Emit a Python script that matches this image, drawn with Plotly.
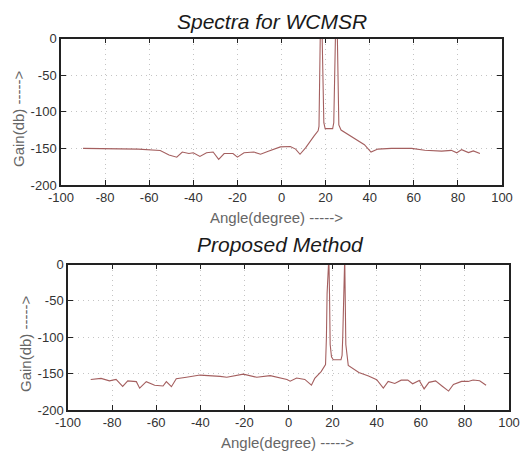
import plotly.graph_objects as go
from plotly.subplots import make_subplots

# ---------------- data ----------------
wc_angle = [-90, -78, -65, -55, -51, -47.5, -45, -42, -40, -37, -34, -31, -28.5, -26,
            -22, -20, -17, -12.5, -9.5, -6, -0.5, 4, 6.4, 8.4, 11, 14.8, 16.6,
            17.0, 17.3, 17.6, 18.4, 18.9, 19.2, 19.8, 23.2, 23.7, 24.1, 24.5, 25.3,
            25.7, 26.0, 27, 32.3, 37.6, 40.6, 43.7, 49.8, 59, 65, 72.6, 77, 79.5,
            81.7, 84.8, 87, 90]
wc_gain = [-150, -150, -151, -153, -159, -162, -155, -157, -156, -161, -156, -155, -165, -157,
           -157, -162, -156, -155, -158, -154, -148, -147.5, -151, -158, -149, -133, -126,
           -120, -60, 8, 8, -60, -115, -123, -123, -115, -60, 8, 8,
           -60, -118, -125, -135, -145, -155, -151, -150, -150, -152.5, -153.7, -152.7, -156,
           -151.7, -155.7, -153.5, -157]

pm_angle = [-89.7, -85, -81.2, -78.2, -75.2, -72.9, -69, -67.5, -64.5, -60.7, -56.9, -55.4,
            -53.1, -50.9, -46.3, -40.1, -31, -28, -20.5, -14.4, -8.3, -0.7, 0.75, 3.7, 7.4,
            10.4, 11.9, 14.8, 16.8, 17.2, 17.5, 17.8, 18.3, 18.6, 18.9, 19.5, 20.3, 23.8,
            24.3, 24.6, 24.9, 25.1, 25.5, 25.7, 26.0, 27.1, 31.9, 36.3, 40, 43, 45.2, 48.2,
            51.1, 54.1, 56.3, 59.3, 61.5, 63.7, 66.7, 69.6, 72.6, 74.8, 78.5, 81.5, 83.7,
            86.7, 89.6]
pm_gain = [-158, -156.6, -160, -158, -167.5, -160, -161, -170, -161, -166, -167, -161,
           -168, -157, -155, -152, -153.8, -155, -150.7, -155, -152.8, -158, -160.4, -156, -158,
           -165.8, -156.6, -147.3, -137.6, -100, -40, 10, 10, -40, -110, -127, -131, -131,
           -125, -100, -40, 10, 10, -40, -110, -138.6, -148.5, -153.4, -158.3, -170, -160.8, -163.5,
           -159, -159, -164, -159.5, -171, -162, -160, -167, -174, -165, -160.7, -160.7, -158.7,
           -159.7, -166]

x_ticks = [-100, -80, -60, -40, -20, 0, 20, 40, 60, 80, 100]
x_tick_labels = ["-100", "-80", "-60", "-40", "-20", "0", "20", "40", "60", "80", "100"]
y_ticks = [-200, -150, -100, -50, 0]
y_tick_labels = ["-200", "-150", "-100", "-50", "0"]

titles = ["Spectra for WCMSR", "Proposed Method"]
x_title = "Angle(degree) ----->"
y_title = "Gain(db) ----->"

# ---------------- figure ----------------
W, H = 529, 459
fig = make_subplots(rows=2, cols=1)

line_color = "#a45f5f"
fig.add_trace(go.Scatter(x=wc_angle, y=wc_gain, mode="lines",
                         line=dict(color=line_color, width=1.1), showlegend=False),
              row=1, col=1)
fig.add_trace(go.Scatter(x=pm_angle, y=pm_gain, mode="lines",
                         line=dict(color=line_color, width=1.1), showlegend=False),
              row=2, col=1)

tick_font = dict(family="Liberation Sans, Arial, sans-serif", size=13, color="#333333")
axis_common = dict(showline=True, linecolor="#222222", linewidth=1.5, mirror="ticks",
                   ticks="inside", ticklen=5, tickcolor="#222222", tickwidth=1,
                   showgrid=True, gridcolor="#c4c4c4", griddash="1px,4px", gridwidth=1,
                   zeroline=False, tickfont=tick_font, automargin=False)

def px_x(p):
    return p / W

def px_y(p):
    return 1 - p / H

fig.update_layout(
    template="none",
    width=W, height=H,
    margin=dict(l=0, r=0, t=0, b=0),
    paper_bgcolor="white", plot_bgcolor="white",
    xaxis=dict(domain=[px_x(61), px_x(502)], range=[-100, 100], tickvals=x_ticks,
               ticktext=x_tick_labels, **axis_common),
    yaxis=dict(domain=[px_y(185), px_y(38.5)], range=[-200, 0], tickvals=y_ticks,
               ticktext=y_tick_labels, **axis_common),
    xaxis2=dict(domain=[px_x(68), px_x(509)], range=[-100, 100], tickvals=x_ticks,
                ticktext=x_tick_labels, **axis_common),
    yaxis2=dict(domain=[px_y(410), px_y(264.5)], range=[-200, 0], tickvals=y_ticks,
                ticktext=y_tick_labels, **axis_common),
)

title_font = dict(family="Liberation Sans, Arial, sans-serif", size=21, color="#1a1a1a", style="italic")
label_font = dict(family="Liberation Sans, Arial, sans-serif", size=15, color="#666666")

ann = [
    dict(text=titles[0], x=px_x(272), y=px_y(22), font=title_font),
    dict(text=titles[1], x=px_x(280), y=px_y(244), font=title_font),
    dict(text=x_title, x=px_x(276), y=px_y(217), font=label_font),
    dict(text=x_title, x=px_x(287), y=px_y(442), font=label_font),
    dict(text=y_title, x=px_x(18), y=px_y(119), font=label_font, textangle=-90),
    dict(text=y_title, x=px_x(25), y=px_y(344), font=label_font, textangle=-90),
]
for a in ann:
    fig.add_annotation(xref="paper", yref="paper", showarrow=False,
                       xanchor="center", yanchor="middle", **a)

fig.write_html("out.html",
               config={"displayModeBar": False},
               post_script="document.body.style.margin='0';document.body.style.overflow='hidden';")
